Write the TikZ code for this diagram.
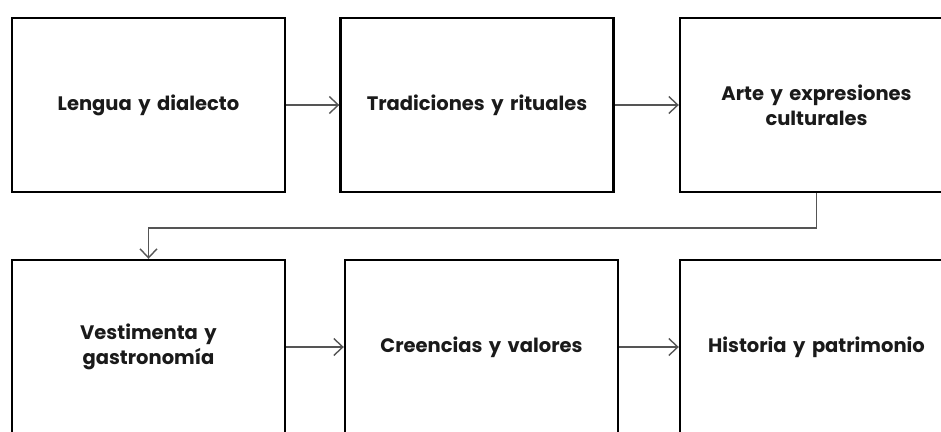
\documentclass[tikz,border=0pt]{standalone}
\usepackage{fontspec}
\setmainfont{Poppins}
\usetikzlibrary{arrows.meta}
\definecolor{conn}{HTML}{555555}
\definecolor{txt}{HTML}{1A1A1A}
\tikzset{
  box/.style={draw=black, line width=2.4pt, minimum width=273pt, minimum height=174pt,
    inner sep=0pt, align=center, text width=250pt, font=\fontsize{19.5}{25}\selectfont\bfseries, text=txt},
  conarrow/.style={draw=conn, line width=1.4pt, -{Straight Barb[length=9pt,width=17pt,line width=1.4pt]}}
}
\begin{document}
\begin{tikzpicture}[x=1pt,y=-1pt]
\useasboundingbox (0,0) rectangle (941,431);
\clip (0,0) rectangle (941,431);
\node[box] (b1) at (148.5,105) {Lengua y dialecto};
\node[box] (b2) at (477,105) {Tradiciones y rituales};
\node[box] (b3) at (816.5,105) {Arte y expresiones\\culturales};
\node[box] (b4) at (148.5,347) {Vestimenta y\\gastronomía};
\node[box] (b5) at (481.5,347) {Creencias y valores};
\node[box] (b6) at (816.5,347) {Historia y patrimonio};
\coordinate (m) at (0,228);
\draw[conarrow] (b1.east) -- (b2.west);
\draw[conarrow] (b2.east) -- (b3.west);
\draw[conarrow] (b3.south) -- (b3.south |- m) -- (b4.north |- m) -- (b4.north);
\draw[conarrow] (b4.east) -- (b5.west);
\draw[conarrow] (b5.east) -- (b6.west);
\end{tikzpicture}
\end{document}
